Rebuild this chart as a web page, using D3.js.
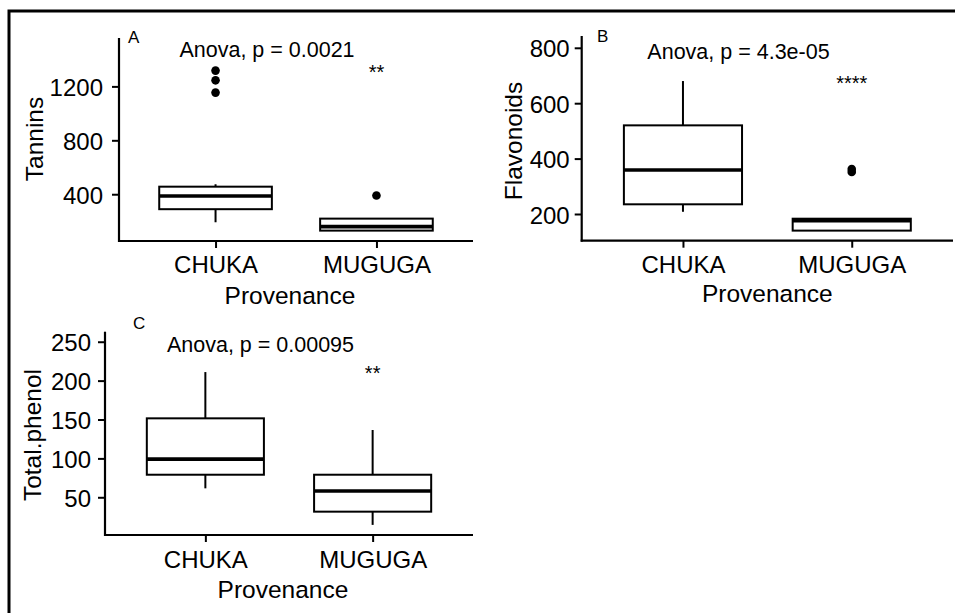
<!DOCTYPE html>
<html><head><meta charset="utf-8">
<script src="https://cdn.jsdelivr.net/npm/d3@7"></script>
<style>
html,body{margin:0;padding:0;background:#fff;}
svg{display:block;font-family:"Liberation Sans",Arial,sans-serif;}
</style></head>
<body>
<svg id="chart" width="955" height="613"></svg>
<script>
// ---- data ----
const categories = ["CHUKA", "MUGUGA"];

const tanninsLower   = [192, 130];
const tanninsQ1      = [289, 130];
const tanninsMedian  = [387, 160];
const tanninsQ3      = [456, 219];
const tanninsUpper   = [474, 219];
const tanninsOutliers = [[1317, 1245, 1154], [390]];
const tanninsTicks   = [400, 800, 1200];
const tanninsDomain  = [53, 1559];

const flavLower   = [208, 140];
const flavQ1      = [235, 140];
const flavMedian  = [359, 176];
const flavQ3      = [520, 183];
const flavUpper   = [680, 183];
const flavOutliers = [[], [362, 352]];
const flavTicks   = [200, 400, 600, 800];
const flavDomain  = [103.6, 842.6];

const phenolLower   = [61.5, 14.5];
const phenolQ1      = [79, 31.5];
const phenolMedian  = [99, 58];
const phenolQ3      = [151.5, 79];
const phenolUpper   = [211, 136.5];
const phenolOutliers = [[], []];
const phenolTicks   = [50, 100, 150, 200, 250];
const phenolDomain  = [1.5, 262.9];

const panelLetters = ["A", "B", "C"];
const yTitles = ["Tannins", "Flavonoids", "Total.phenol"];
const anovaLabels = ["Anova, p = 0.0021", "Anova, p = 4.3e-05", "Anova, p = 0.00095"];
const signifLabels = ["**", "****", "**"];
const xTitle = "Provenance";

// ---- layout ----
const panels = [
  { lower: tanninsLower, q1: tanninsQ1, med: tanninsMedian, q3: tanninsQ3, upper: tanninsUpper, out: tanninsOutliers,
    ticks: tanninsTicks, domain: tanninsDomain,
    x0: 119, x1: 473, yTop: 38, yBot: 241, tickPad: 9,
    letter: [128, 43], anova: [267, 57], sigY: 79, yTitle: [42.5, 139], xTitleY: 304, xLabY: 273 },
  { lower: flavLower, q1: flavQ1, med: flavMedian, q3: flavQ3, upper: flavUpper, out: flavOutliers,
    ticks: flavTicks, domain: flavDomain,
    x0: 581.7, x1: 953, yTop: 36, yBot: 240.7, tickPad: 5,
    letter: [597, 42], anova: [738.5, 59], sigY: 90, yTitle: [521.5, 141], xTitleY: 302, xLabY: 273 },
  { lower: phenolLower, q1: phenolQ1, med: phenolMedian, q3: phenolQ3, upper: phenolUpper, out: phenolOutliers,
    ticks: phenolTicks, domain: phenolDomain,
    x0: 105, x1: 473, yTop: 331.7, yBot: 535, tickPad: 7,
    letter: [133, 329], anova: [260.5, 351.5], sigY: 379.5, yTitle: [40.5, 435], xTitleY: 598, xLabY: 567.5 }
];

const svg = d3.select("#chart");
svg.append("rect").attr("width", 955).attr("height", 613).attr("fill", "#fff");
// outer frame
svg.append("rect").attr("x", 9).attr("y", 11).attr("width", 960).attr("height", 620)
  .attr("fill", "none").attr("stroke", "#000").attr("stroke-width", 3);

panels.forEach((p, i) => {
  const g = svg.append("g");
  const x = d3.scalePoint().domain(categories).range([p.x0, p.x1]).padding(0.6);
  const y = d3.scaleLinear().domain(p.domain).range([p.yBot, p.yTop]);
  const bw = x.step() * 0.7;

  // y axis
  const ya = g.append("g").attr("transform", `translate(${p.x0},0)`)
    .call(d3.axisLeft(y).tickValues(p.ticks).tickFormat(d3.format("d"))
      .tickSize(7).tickPadding(p.tickPad).tickSizeOuter(0));
  ya.select(".domain").remove();
  ya.selectAll(".tick line").attr("stroke", "#000").attr("stroke-width", 2);
  ya.selectAll(".tick text").attr("fill", "#000").style("font-size", "24px").attr("dy", "0.38em");
  g.append("line").attr("x1", p.x0).attr("x2", p.x0).attr("y1", p.yTop).attr("y2", p.yBot + 1)
    .attr("stroke", "#000").attr("stroke-width", 2.2);

  // x axis
  const xa = g.append("g").attr("transform", `translate(0,${p.yBot})`)
    .call(d3.axisBottom(x).tickSize(7).tickPadding(0).tickSizeOuter(0));
  xa.select(".domain").remove();
  xa.selectAll(".tick line").attr("stroke", "#000").attr("stroke-width", 2);
  xa.selectAll(".tick text").attr("fill", "#000").style("font-size", "24px")
    .attr("y", p.xLabY - p.yBot).attr("dy", 0);
  g.append("line").attr("x1", p.x0 - 1).attr("x2", p.x1).attr("y1", p.yBot).attr("y2", p.yBot)
    .attr("stroke", "#000").attr("stroke-width", 2.2);

  // boxes
  categories.forEach((c, k) => {
    const cx = x(c);
    g.append("line").attr("x1", cx).attr("x2", cx).attr("y1", y(p.q3[k])).attr("y2", y(p.upper[k]))
      .attr("stroke", "#000").attr("stroke-width", 2);
    g.append("line").attr("x1", cx).attr("x2", cx).attr("y1", y(p.q1[k])).attr("y2", y(p.lower[k]))
      .attr("stroke", "#000").attr("stroke-width", 2);
    g.append("rect").attr("x", cx - bw / 2).attr("width", bw)
      .attr("y", y(p.q3[k])).attr("height", Math.max(0, y(p.q1[k]) - y(p.q3[k])))
      .attr("fill", "#fff").attr("stroke", "#000").attr("stroke-width", 2);
    g.append("line").attr("x1", cx - bw / 2).attr("x2", cx + bw / 2)
      .attr("y1", y(p.med[k])).attr("y2", y(p.med[k]))
      .attr("stroke", "#000").attr("stroke-width", 3.6);
    p.out[k].forEach(v => {
      g.append("circle").attr("cx", cx).attr("cy", y(v)).attr("r", 4.3).attr("fill", "#000");
    });
  });

  // texts
  g.append("text").attr("x", p.letter[0]).attr("y", p.letter[1]).text(panelLetters[i])
    .style("font-size", "17px").attr("fill", "#000");
  g.append("text").attr("x", p.anova[0]).attr("y", p.anova[1]).attr("text-anchor", "middle")
    .text(anovaLabels[i]).style("font-size", "21.5px").attr("fill", "#000");
  g.append("text").attr("x", x("MUGUGA")).attr("y", p.sigY).attr("text-anchor", "middle")
    .text(signifLabels[i]).style("font-size", "20px").attr("fill", "#000");
  g.append("text").attr("transform", `translate(${p.yTitle[0]},${p.yTitle[1]}) rotate(-90)`)
    .attr("text-anchor", "middle").text(yTitles[i]).style("font-size", "24.5px").attr("fill", "#000");
  g.append("text").attr("x", (p.x0 + p.x1) / 2 - (i === 1 ? 0 : 6)).attr("y", p.xTitleY)
    .attr("text-anchor", "middle").text(xTitle).style("font-size", "24.5px").attr("fill", "#000");
});
</script>
</body></html>
